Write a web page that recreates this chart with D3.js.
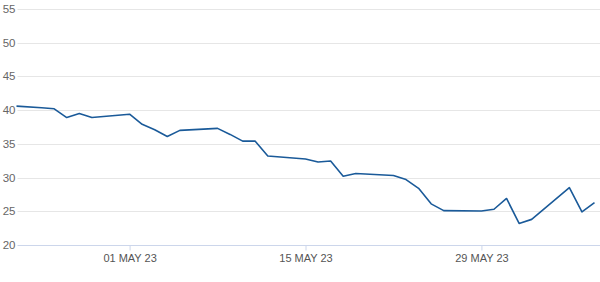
<!DOCTYPE html>
<html>
<head>
<meta charset="utf-8">
<script src="https://cdn.jsdelivr.net/npm/d3@7"></script>
<style>
  html, body { margin: 0; padding: 0; background: #fff; }
  svg { display: block; }
  text { font-family: "Liberation Sans", Arial, sans-serif; }
</style>
</head>
<body>
<svg id="chart" width="600" height="282"></svg>
<script>
const dates = [
  "2023-04-22","2023-04-24","2023-04-25","2023-04-26","2023-04-27","2023-04-28",
  "2023-05-01","2023-05-02","2023-05-03","2023-05-04","2023-05-05",
  "2023-05-08","2023-05-09","2023-05-10","2023-05-11","2023-05-12",
  "2023-05-15","2023-05-16","2023-05-17","2023-05-18","2023-05-19",
  "2023-05-22","2023-05-23","2023-05-24","2023-05-25","2023-05-26",
  "2023-05-29","2023-05-30","2023-05-31","2023-06-01","2023-06-02",
  "2023-06-05","2023-06-06","2023-06-07"
];
const values = [
  40.6, 40.35, 40.2, 38.9, 39.5, 38.9,
  39.4, 37.9, 37.1, 36.1, 37.0,
  37.3, 36.4, 35.4, 35.4, 33.2,
  32.75, 32.3, 32.45, 30.2, 30.6,
  30.3, 29.7, 28.4, 26.1, 25.1,
  25.05, 25.3, 26.9, 23.2, 23.8,
  28.5, 24.9, 26.3
];
const yTicks = [20, 25, 30, 35, 40, 45, 50, 55];
const xTickDates = ["2023-05-01", "2023-05-15", "2023-05-29"];

const parse = d3.timeParse("%Y-%m-%d");
const data = dates.map((d, i) => ({ date: parse(d), value: values[i] }));

const svg = d3.select("#chart");
const x = d3.scaleTime()
  .domain([parse(dates[0]), parse(dates[dates.length - 1])])
  .range([16.5, 594.5]);
const y = d3.scaleLinear().domain([20, 55]).range([245, 9]);

// grid lines
svg.append("g").selectAll("line")
  .data(yTicks.filter(t => t !== 20))
  .join("line")
  .attr("x1", 17.5).attr("x2", 600)
  .attr("y1", d => Math.round(y(d)) + 0.5)
  .attr("y2", d => Math.round(y(d)) + 0.5)
  .attr("stroke", "#e6e6e6").attr("stroke-width", 1);

// y labels
svg.append("g").selectAll("text")
  .data(yTicks)
  .join("text")
  .attr("x", 15.5)
  .attr("y", d => y(d))
  .attr("dy", "0.35em")
  .attr("text-anchor", "end")
  .attr("fill", "#666")
  .attr("font-size", "11.5px")
  .text(d => d);

// x axis
const xAxis = d3.axisBottom(x)
  .tickValues(xTickDates.map(parse))
  .tickFormat(d => d3.timeFormat("%d %b %y")(d).toUpperCase())
  .tickSize(5)
  .tickPadding(4);
const gx = svg.append("g")
  .attr("transform", `translate(0,${Math.round(y(20)) + 0.5})`)
  .call(xAxis);
gx.select(".domain").remove();
gx.selectAll(".tick line").attr("stroke", "#ccd6eb");
gx.selectAll(".tick text")
  .attr("fill", "#555")
  .attr("font-size", "11px")
  .attr("font-family", "'Liberation Sans', Arial, sans-serif");
svg.append("line")
  .attr("x1", 17.5).attr("x2", 600)
  .attr("y1", Math.round(y(20)) + 0.5).attr("y2", Math.round(y(20)) + 0.5)
  .attr("stroke", "#ccd6eb").attr("stroke-width", 1);

// line
const line = d3.line().x(d => x(d.date)).y(d => y(d.value));
svg.append("path")
  .datum(data)
  .attr("fill", "none")
  .attr("stroke", "#1a5a99")
  .attr("stroke-width", 1.6)
  .attr("stroke-linejoin", "round")
  .attr("d", line);
</script>
</body>
</html>
